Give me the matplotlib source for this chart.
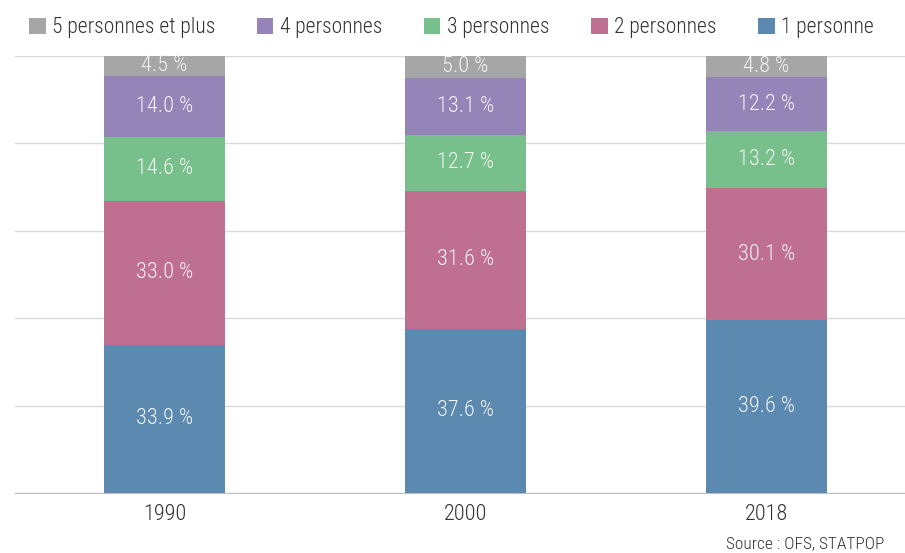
import matplotlib
matplotlib.use("Agg")
import matplotlib.pyplot as plt
import numpy as np

years = ["1990", "2000", "2018"]
series_names = ["1 personne", "2 personnes", "3 personnes", "4 personnes", "5 personnes et plus"]
p1 = [33.9, 37.6, 39.6]
p2 = [33.0, 31.6, 30.1]
p3 = [14.6, 12.7, 13.2]
p4 = [14.0, 13.1, 12.2]
p5 = [4.5, 5.0, 4.8]
colors = ["#5b89b0", "#bf7091", "#78c08b", "#9584b8", "#a6a6a6"]

plt.rcParams['font.family'] = ['Roboto Condensed', 'Open Sans Condensed', 'Roboto', 'DejaVu Sans']
plt.rcParams['font.weight'] = 'light'

fig = plt.figure(figsize=(9.05, 5.53), dpi=100)
ax = fig.add_axes([15/905, 1-493/553, 890/905, (493-56)/553])

x = np.arange(len(years))
bottom = np.zeros(len(years))
handles = []
for name, vals, col in zip(series_names, [p1, p2, p3, p4, p5], colors):
    b = ax.bar(x, vals, width=0.4, bottom=bottom, color=col, label=name, zorder=3)
    handles.append(b)
    for xi, v, bt in zip(x, vals, bottom):
        ax.text(xi, bt + v/2, "%.1f %%" % v, ha="center", va="center",
                color="#f2f2f2", fontsize=16, zorder=4)
    bottom += np.array(vals)

ax.set_ylim(0, 100)
ax.set_xlim(-0.497, 2.46)
ax.set_yticks([0, 20, 40, 60, 80, 100])
ax.set_yticklabels([])
ax.grid(axis="y", color="#d9d9d9", linewidth=1, zorder=0)
ax.tick_params(axis="y", length=0)
ax.tick_params(axis="x", length=0, labelsize=16, labelcolor="#333333", pad=8)
ax.set_xticks(x)
ax.set_xticklabels(years)
for s in ["top", "right", "left"]:
    ax.spines[s].set_visible(False)
ax.spines["bottom"].set_color("#bfbfbf")

fig.legend(handles[::-1], series_names[::-1], loc="upper center", ncol=5,
           bbox_to_anchor=(0.499, 1.004), frameon=False, fontsize=15.5,
           handlelength=0.75, handleheight=0.75, handletextpad=0.3,
           columnspacing=1.95, labelcolor="#333333")

fig.text(0.977, 0.004, "Source : OFS, STATPOP", ha="right", va="bottom",
         fontsize=12.5, color="#333333")

fig.savefig("out.png", dpi=100)
